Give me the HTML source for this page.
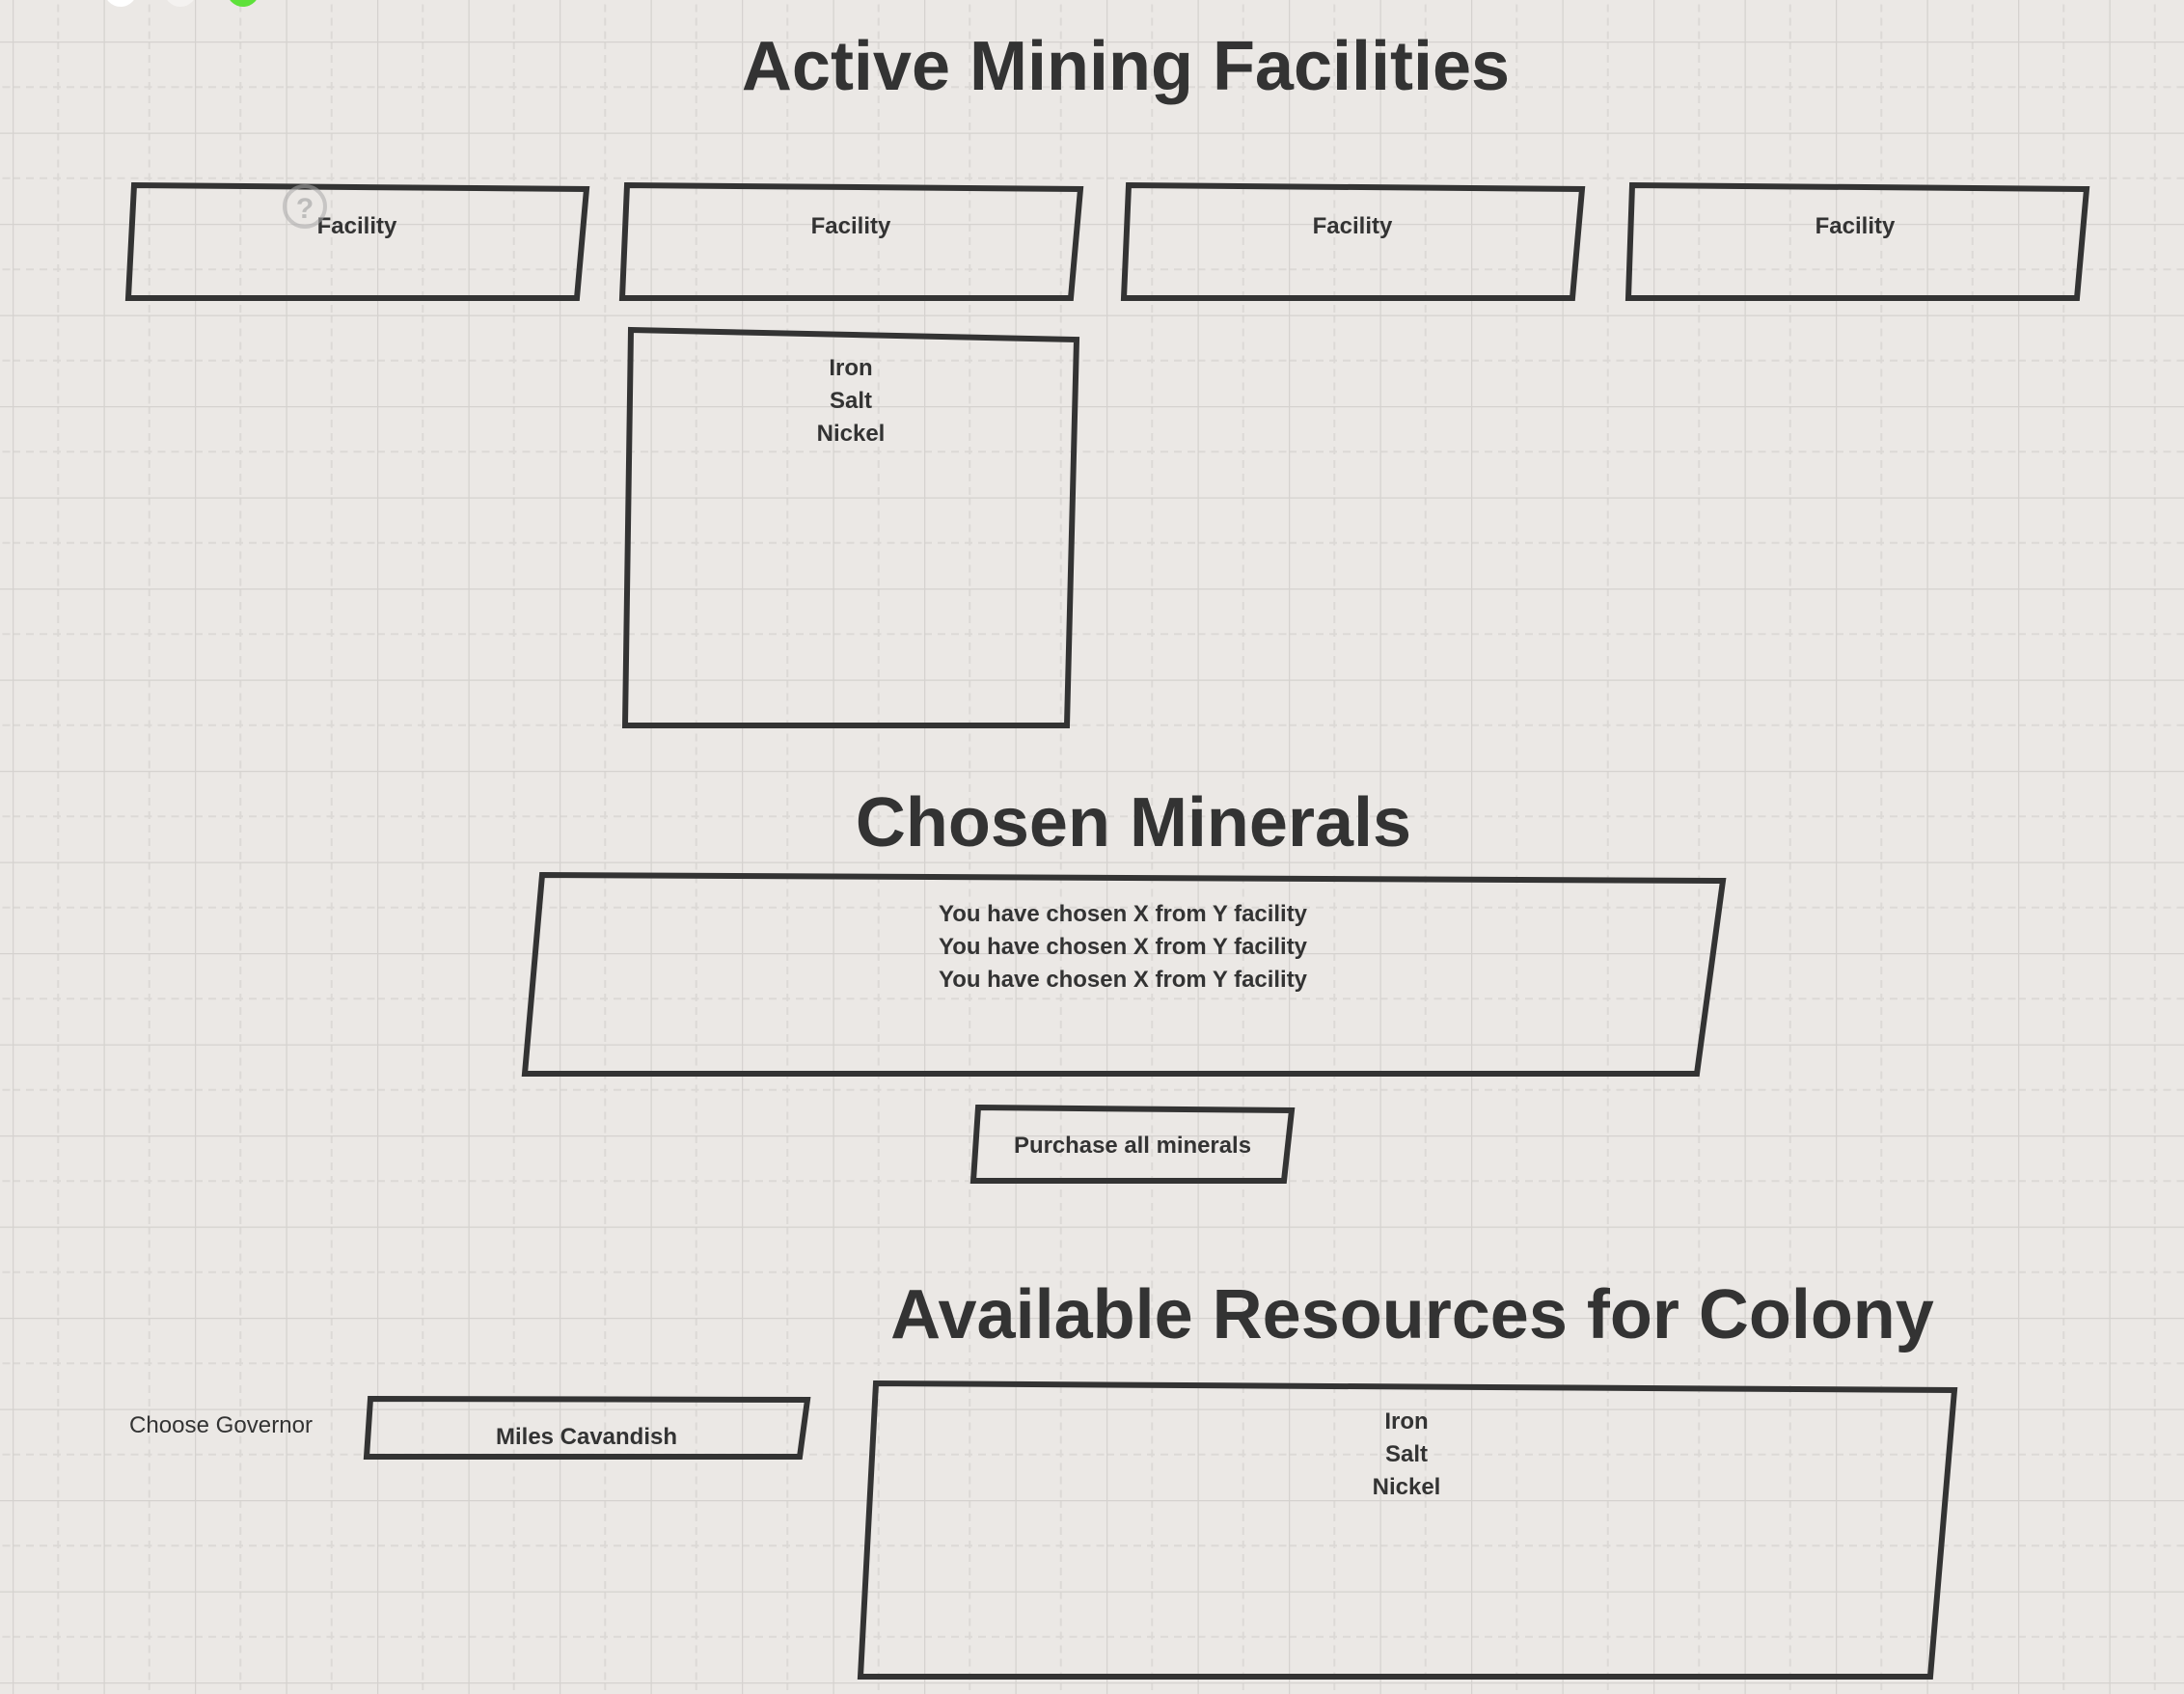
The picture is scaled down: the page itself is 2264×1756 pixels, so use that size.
<!DOCTYPE html>
<html><head><meta charset="utf-8"><style>
html,body{margin:0;padding:0;background:#ebe8e5;}
svg{display:block;}
text{font-family:"Liberation Sans",Arial,sans-serif;fill:#333;}
</style></head><body>
<svg width="2264" height="1756" viewBox="0 0 2264 1756">
<defs>
<pattern id="grid" x="13" y="43" width="94.5" height="94.5" patternUnits="userSpaceOnUse">
<line x1="47.25" y1="0" x2="47.25" y2="94.5" stroke="#dcd9d6" stroke-width="2" stroke-dasharray="8,6"/>
<line x1="0" y1="47.25" x2="94.5" y2="47.25" stroke="#dcd9d6" stroke-width="2" stroke-dasharray="8,6"/>
<line x1="0" y1="0" x2="0" y2="94.5" stroke="#d5d2cf" stroke-width="2.5"/>
<line x1="0" y1="0" x2="94.5" y2="0" stroke="#d5d2cf" stroke-width="2.5"/>
</pattern>
</defs>
<rect width="2264" height="1756" fill="#ebe8e5"/>
<rect width="2264" height="1756" fill="url(#grid)"/>

<g>
<circle cx="125" cy="-10" r="17" fill="#ffffff"/>
<circle cx="187" cy="-10" r="17" fill="#f4f2f0"/>
<circle cx="252" cy="-10" r="17" fill="#5ee13a"/>
</g>

<text x="1167" y="93" font-size="72" font-weight="bold" text-anchor="middle">Active Mining Facilities</text>

<g fill="none" stroke="#333" stroke-width="6" stroke-linejoin="miter">
<polygon points="139,192 608,196 598,309 133,309"/>
<polygon points="650,192 1120,196 1110,309 645,309"/>
<polygon points="1170,192 1640,196 1630,309 1165,309"/>
<polygon points="1692,192 2163,196 2153,309 1688,309"/>
<polygon points="654,342 1116,352 1106,752 648,752"/>
<polygon points="562,907 1786,913 1759,1113 544,1113"/>
<polygon points="1014,1148 1339,1151 1331,1224 1009,1224"/>
<polygon points="384,1450 837,1451 829,1510 380,1510"/>
<polygon points="908,1434 2026,1441 2001,1738 892,1738"/>
</g>

<g font-size="24" font-weight="bold" text-anchor="middle">
<text x="370" y="242">Facility</text>
<text x="882" y="242">Facility</text>
<text x="1402" y="242">Facility</text>
<text x="1923" y="242">Facility</text>
<text x="882" y="389">Iron</text>
<text x="882" y="423">Salt</text>
<text x="882" y="457">Nickel</text>
<text x="1164" y="955" textLength="382" lengthAdjust="spacingAndGlyphs">You have chosen X from Y facility</text>
<text x="1164" y="989" textLength="382" lengthAdjust="spacingAndGlyphs">You have chosen X from Y facility</text>
<text x="1164" y="1023" textLength="382" lengthAdjust="spacingAndGlyphs">You have chosen X from Y facility</text>
<text x="1174" y="1195" textLength="246" lengthAdjust="spacingAndGlyphs">Purchase all minerals</text>
<text x="608" y="1497" textLength="188" lengthAdjust="spacingAndGlyphs">Miles Cavandish</text>
<text x="1458" y="1481">Iron</text>
<text x="1458" y="1515">Salt</text>
<text x="1458" y="1549">Nickel</text>
</g>

<g opacity="0.55">
<circle cx="316" cy="214" r="21" fill="none" stroke="#aaa" stroke-width="4"/>
<text x="316" y="226" font-size="30" font-weight="bold" text-anchor="middle" style="fill:#999">?</text>
</g>

<text x="1175" y="877" font-size="72" font-weight="bold" text-anchor="middle">Chosen Minerals</text>
<text x="1464" y="1387" font-size="72" font-weight="bold" text-anchor="middle">Available Resources for Colony</text>
<text x="134" y="1485" font-size="24" textLength="190" lengthAdjust="spacingAndGlyphs">Choose Governor</text>
</svg>
</body></html>
